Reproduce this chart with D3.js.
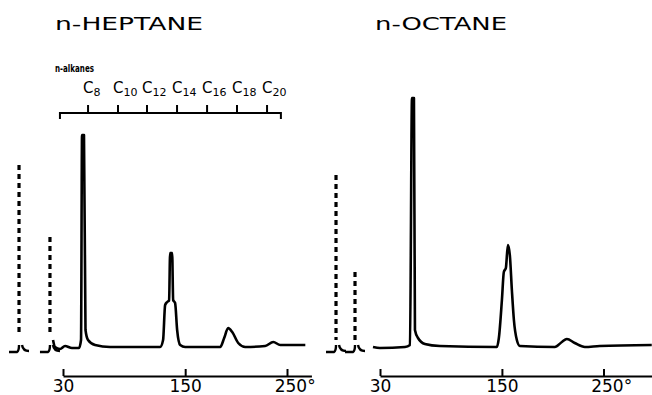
<!DOCTYPE html>
<html>
<head>
<meta charset="utf-8">
<script src="https://cdn.jsdelivr.net/npm/d3@7"></script>
<style>
  body { margin: 0; background: #fff; }
  svg text { font-family: "DejaVu Sans", sans-serif; fill: #000; }
</style>
</head>
<body>
<svg id="chart" width="652" height="395"></svg>
<script>
// temperature ticks (deg C) on both programmes
var tempTicks = [30, 150, 250];

// n-alkane elution marks (carbon number, temperature)
var alkaneCarbons = [8, 10, 12, 14, 16, 18, 20];
var alkaneTemps = [54.6, 84.0, 112.5, 142.0, 171.5, 200.9, 230.4];
var alkaneRange = [27, 244];

// n-heptane trace: [temperature, detector signal]
var heptaneTrace = [
  [20.2, 2.8], [22.1, 0], [27.1, -0.8], [32.0, 0.4], [38.8, -0.4], [45.7, -0.4],
  [47.7, 2.8], [48.7, 84.8], [50.6, 84.8], [52.1, 6.8], [54.6, 2.8], [61.5, 0.8],
  [76.2, 0], [125.4, 0], [128.3, 2.8], [130.3, 16.8], [132.3, 18], [134.2, 18.6],
  [135.2, 37.6], [137.2, 37.6], [138.2, 18.8], [140.1, 17.6], [142.1, 6.8],
  [145.1, 0.8], [150.0, 0], [184.4, 0], [188.3, 3.6], [192.2, 7.6], [196.2, 6],
  [202.1, 1.6], [209.0, 0], [228.6, 0.4], [236.5, 2], [243.4, 0.8], [268.0, 0.8]
];

// n-octane trace: [temperature, detector signal]
var octaneTrace = [
  [23.1, 0], [30.0, -0.4], [54.6, 0], [59.5, 0.8], [61.5, 99.6], [63.4, 99.6],
  [64.4, 6.8], [67.4, 3.6], [74.2, 1.2], [89.0, 0.4], [145.0, 0], [147.0, 3.6],
  [150.0, 18.8], [151.9, 30], [153.9, 31.6], [155.9, 40.8], [157.8, 36.8],
  [159.8, 22.8], [161.8, 10.8], [164.7, 2.8], [167.7, 0.4], [202.1, 0],
  [209.0, 2], [213.9, 3.2], [221.7, 1.6], [231.6, 0], [246.3, 0.4], [297.5, 0.8]
];

// attenuation markers: [temperature, top signal, bottom signal]
var heptaneMarkers = [[-13.2, 72.8, 5.6], [17.2, 44, 5.6]];
var octaneMarkers = [[-13.3, 68.8, 2.8], [5.4, 30, 2.8]];

var panels = [
  {title: "n-HEPTANE", titleX: 55, titleW: 148, x0: 63, x250: 287, axisEnd: 274, trace: heptaneTrace, markers: heptaneMarkers, alkanes: true},
  {title: "n-OCTANE", titleX: 375, titleW: 132, x0: 380, x250: 603.5, axisEnd: 300, trace: octaneTrace, markers: octaneMarkers, alkanes: false}
];

var svg = d3.select("#chart");
var y = d3.scaleLinear().domain([0, 100]).range([347, 97]);

panels.forEach(function(p) {
  var x = d3.scaleLinear().domain([30, 250]).range([p.x0, p.x250]);
  var g = svg.append("g");

  // wide lettering like the original stencil
  g.append("text")
    .attr("x", p.titleX).attr("y", 30)
    .attr("textLength", p.titleW)
    .attr("lengthAdjust", "spacingAndGlyphs")
    .style("font-size", "18px")
    .text(p.title);

  // chromatogram line
  var line = d3.line()
    .x(function(d) { return x(d[0]); })
    .y(function(d) { return y(d[1]); })
    .curve(d3.curveMonotoneX);
  g.append("path")
    .datum(p.trace)
    .attr("d", line)
    .attr("fill", "none")
    .attr("stroke", "#000")
    .attr("stroke-width", 2.6)
    .attr("stroke-linejoin", "round");

  // dashed attenuation markers
  g.selectAll(".marker")
    .data(p.markers)
    .enter().append("line")
    .attr("x1", function(d) { return x(d[0]); })
    .attr("x2", function(d) { return x(d[0]); })
    .attr("y1", function(d) { return y(d[1]); })
    .attr("y2", function(d) { return y(d[2]); })
    .attr("stroke", "#000")
    .attr("stroke-width", 3.2)
    .attr("stroke-dasharray", "5,4");

  // little pen hooks under the markers
  g.selectAll(".hook")
    .data(p.markers)
    .enter().append("path")
    .attr("d", function(d) {
      var cx = x(d[0]), b = y(0);
      return "M" + (cx - 10) + "," + (b + 5) + " L" + (cx - 2) + "," + (b + 5) +
        " Q" + cx + "," + (b + 4) + " " + cx + "," + (b - 2) +
        " M" + (cx + 3) + "," + (b - 2) + " Q" + (cx + 4) + "," + (b + 4) + " " + (cx + 10) + "," + (b + 4);
    })
    .attr("fill", "none")
    .attr("stroke", "#000")
    .attr("stroke-width", 2.4);

  // temperature axis
  var axisScale = d3.scaleLinear().domain([30, p.axisEnd]).range([x(30), x(p.axisEnd)]);
  var axis = d3.axisBottom(axisScale)
    .tickValues(tempTicks)
    .tickSizeInner(-7)
    .tickSizeOuter(0)
    .tickFormat(function(d) { return d === 250 ? "250°" : d; });
  var ag = g.append("g").attr("transform", "translate(0,376)").call(axis);
  ag.select(".domain").attr("stroke", "#000").attr("stroke-width", 2.2);
  ag.selectAll(".tick line").attr("stroke", "#000").attr("stroke-width", 2);
  ag.selectAll(".tick text")
    .style("font-size", "17px")
    .attr("fill", "#000")
    .attr("y", 16)
    .attr("dy", 0)
    .attr("dx", function(d) { return d === 250 ? "0.45em" : 0; });

  if (p.alkanes) {
    g.append("text")
      .attr("x", 55).attr("y", 72)
      .attr("textLength", 39)
      .attr("lengthAdjust", "spacingAndGlyphs")
      .style("font-size", "10px")
      .style("font-weight", "bold")
      .text("n-alkanes");

    var by = 113;
    g.append("path")
      .attr("d", "M" + x(alkaneRange[0]) + "," + (by + 6) + " V" + by +
        " H" + x(alkaneRange[1]) + " V" + (by + 6))
      .attr("fill", "none")
      .attr("stroke", "#000")
      .attr("stroke-width", 2);

    var marks = g.selectAll(".alk")
      .data(alkaneTemps)
      .enter().append("g")
      .attr("transform", function(d) { return "translate(" + x(d) + ",0)"; });
    marks.append("line")
      .attr("y1", by - 8).attr("y2", by)
      .attr("stroke", "#000").attr("stroke-width", 2);
    var lab = marks.append("text")
      .attr("x", -5).attr("y", 93)
      .style("font-size", "15px");
    lab.append("tspan").text("C");
    lab.append("tspan")
      .attr("dy", 3)
      .style("font-size", "11px")
      .text(function(d, i) { return alkaneCarbons[i]; });
  }
});
</script>
</body>
</html>
